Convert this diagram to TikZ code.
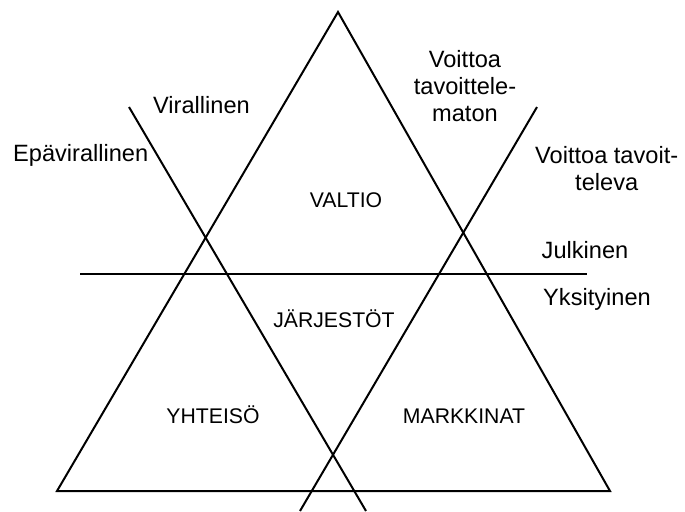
\documentclass[tikz,border=0pt]{standalone}
\usepackage{fontspec}
\setmainfont{Liberation Sans}
\usetikzlibrary{positioning}

\begin{document}
\begin{tikzpicture}[x=0.5pt, y=-0.5pt, line width=1pt,
    sector/.style={inner sep=0pt, anchor=base, font=\fontsize{10.6}{12}\selectfont},
    axislabel/.style={inner sep=0pt, anchor=base, align=center, font=\fontsize{11.8}{13.5}\selectfont}]
    \useasboundingbox (0,0) rectangle (685,511);
    % triangle corners
    \coordinate (apex) at (338,12);
    \coordinate (bl) at (57,491);
    \coordinate (br) at (610,491);
    % dividing lines
    \coordinate (virtop) at (129,107);
    \coordinate (virbot) at (366,511);
    \coordinate (voittop) at (537,107);
    \coordinate (voitbot) at (300,511);
    \coordinate (julkl) at (80,274);
    \coordinate (julkr) at (587,274);

    \node[sector] (valtio) at (346,207.5) {VALTIO};
    \node[sector] (jarjestot) at (334,327.3) {JÄRJESTÖT};
    \node[sector] (yhteiso) at (213,423.3) {YHTEISÖ};
    \node[sector] (markkinat) at (464,423.3) {MARKKINAT};

    \node[axislabel] (virallinen) at (201.5,113.3) {Virallinen};
    \node[axislabel] (epavirallinen) at (80.7,161.7) {Epävirallinen};
    \node[axislabel] (voittoton) at (465,121.7) {Voittoa\\tavoittele-\\maton};
    \node[axislabel] (voitollinen) at (606.7,190) {Voittoa tavoit-\\televa};
    \node[axislabel] (julkinen) at (585,258.3) {Julkinen};
    \node[axislabel] (yksityinen) at (597,305) {Yksityinen};

    \draw (apex) -- (bl) -- (br) -- cycle;
    \path
    (virtop) edge (virbot)
    (voittop) edge (voitbot)
    (julkl) edge (julkr);
\end{tikzpicture}
\end{document}
